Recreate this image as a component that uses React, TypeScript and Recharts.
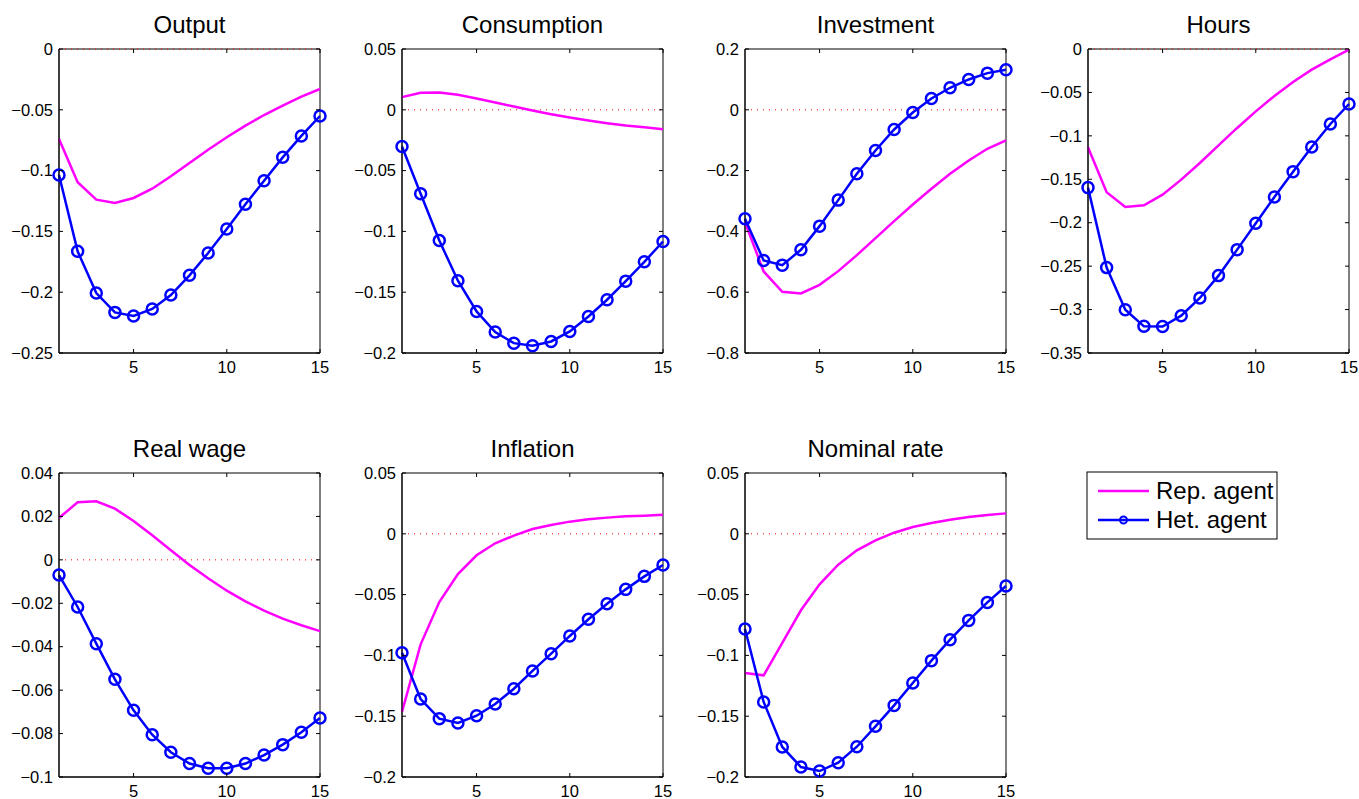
import React from 'react';
import { LineChart, Line, XAxis, YAxis, ReferenceLine, ReferenceArea } from 'recharts';

const periods = [1, 2, 3, 4, 5, 6, 7, 8, 9, 10, 11, 12, 13, 14, 15];
const xTicks = [5, 10, 15];

// Rep. agent / Het. agent impulse responses
const outputRep = [-0.074, -0.1096, -0.1239, -0.1266, -0.1225, -0.1149, -0.1047, -0.0937, -0.0828, -0.0726, -0.063, -0.0543, -0.0466, -0.0392, -0.0329];
const outputHet = [-0.1036, -0.1664, -0.2007, -0.2166, -0.2196, -0.2138, -0.2023, -0.1861, -0.1678, -0.148, -0.1277, -0.1083, -0.0891, -0.0715, -0.0551];
const outputTicks = [-0.25, -0.2, -0.15, -0.1, -0.05, 0];

const consRep = [0.0104, 0.014, 0.0143, 0.0123, 0.0093, 0.006, 0.0027, -0.0005, -0.0036, -0.0063, -0.0088, -0.011, -0.0129, -0.0143, -0.0159];
const consHet = [-0.0302, -0.0691, -0.1075, -0.1406, -0.1658, -0.1828, -0.1919, -0.1941, -0.1905, -0.1823, -0.17, -0.1562, -0.1409, -0.125, -0.1083];
const consTicks = [-0.2, -0.15, -0.1, -0.05, 0, 0.05];

const invRep = [-0.37, -0.5318, -0.5987, -0.6042, -0.5757, -0.5307, -0.478, -0.4221, -0.3662, -0.3114, -0.2599, -0.2105, -0.1667, -0.1283, -0.1009];
const invHet = [-0.3586, -0.4956, -0.511, -0.4605, -0.3827, -0.2971, -0.2105, -0.1338, -0.0647, -0.0088, 0.0373, 0.0724, 0.0998, 0.1206, 0.1316];
const invTicks = [-0.8, -0.6, -0.4, -0.2, 0, 0.2];

const hoursRep = [-0.1132, -0.165, -0.1819, -0.18, -0.1677, -0.1504, -0.1312, -0.1109, -0.0909, -0.0718, -0.0541, -0.038, -0.0238, -0.0119, -0.0008];
const hoursHet = [-0.1596, -0.2517, -0.3001, -0.3193, -0.3196, -0.307, -0.2866, -0.2609, -0.231, -0.2007, -0.1704, -0.1412, -0.1128, -0.0863, -0.0633];
const hoursTicks = [-0.35, -0.3, -0.25, -0.2, -0.15, -0.1, -0.05, 0];

const wageRep = [0.0193, 0.0265, 0.027, 0.0236, 0.0179, 0.0113, 0.0044, -0.0024, -0.0085, -0.0142, -0.0191, -0.0234, -0.0271, -0.0301, -0.0328];
const wageHet = [-0.007, -0.0217, -0.0386, -0.055, -0.0693, -0.0805, -0.0886, -0.0938, -0.096, -0.096, -0.0938, -0.0899, -0.0851, -0.0794, -0.0728];
const wageTicks = [-0.1, -0.08, -0.06, -0.04, -0.02, 0, 0.02, 0.04];

const inflRep = [-0.1465, -0.0909, -0.0561, -0.0331, -0.0177, -0.0078, -0.0015, 0.0039, 0.0072, 0.01, 0.0119, 0.0133, 0.0144, 0.0149, 0.0157];
const inflHet = [-0.0978, -0.1359, -0.152, -0.1556, -0.1496, -0.14, -0.1274, -0.1128, -0.0986, -0.084, -0.0703, -0.0575, -0.0457, -0.035, -0.0257];
const inflTicks = [-0.2, -0.15, -0.1, -0.05, 0, 0.05];

const rateRep = [-0.1145, -0.1164, -0.0898, -0.0629, -0.0416, -0.0254, -0.0136, -0.0054, 0.0009, 0.0056, 0.0089, 0.0116, 0.0138, 0.0155, 0.0168];
const rateHet = [-0.0783, -0.1383, -0.1753, -0.1918, -0.1951, -0.1882, -0.1751, -0.1583, -0.1411, -0.1227, -0.1043, -0.0871, -0.0712, -0.0564, -0.0429];
const rateTicks = [-0.2, -0.15, -0.1, -0.05, 0, 0.05];

const FONT = '"Liberation Sans", Arial, Helvetica, sans-serif';
const PLOT_W = 261;
const PLOT_H = 304;
const YW = 60;
const MT = 10;
const MR = 10;
const XH = 22;
const TICK = 4;

const fmt = (v: number) => String(Number(v.toFixed(4))).replace('-', '\u2212');

const XTick = (props: any) => {
  const { x, y, payload } = props;
  return (
    <g>
      <line x1={x} y1={y} x2={x} y2={y - TICK} stroke="#000" />
      <line x1={x} y1={y - PLOT_H} x2={x} y2={y - PLOT_H + TICK} stroke="#000" />
      <text x={x} y={y + 14} dy="0.35em" textAnchor="middle" fontSize={16.5} fontFamily={FONT} fill="#000">
        {payload.value}
      </text>
    </g>
  );
};

const YTick = (props: any) => {
  const { x, y, payload } = props;
  return (
    <g>
      <line x1={x} y1={y} x2={x + TICK} y2={y} stroke="#000" />
      <line x1={x + PLOT_W} y1={y} x2={x + PLOT_W - TICK} y2={y} stroke="#000" />
      <text x={x - 6} y={y} dy="0.35em" textAnchor="end" fontSize={16.5} fontFamily={FONT} fill="#000">
        {fmt(payload.value)}
      </text>
    </g>
  );
};

interface PanelProps {
  title: string;
  rep: number[];
  het: number[];
  ticks: number[];
  left: number;
  top: number;
}

const Panel: React.FC<PanelProps> = ({ title, rep, het, ticks, left, top }) => {
  const data = periods.map((p, i) => ({ p, rep: rep[i], het: het[i] }));
  const lo = ticks[0];
  const hi = ticks[ticks.length - 1];
  return (
    <>
      <div
        style={{
          position: 'absolute', left, top: top - 36, width: PLOT_W, textAlign: 'center',
          fontFamily: FONT, fontSize: 24, lineHeight: '24px', color: '#000',
        }}
      >
        {title}
      </div>
      <div style={{ position: 'absolute', left: left - YW, top: top - MT }}>
        <LineChart
          width={YW + PLOT_W + MR}
          height={MT + PLOT_H + XH}
          data={data}
          margin={{ top: MT, right: MR, left: 0, bottom: 0 }}
        >
          <XAxis
            dataKey="p" type="number" domain={[1, 15]} ticks={xTicks} interval={0}
            tickSize={0} tickMargin={0} height={XH} axisLine={{ stroke: '#000' }}
            tick={(p: any) => <XTick {...p} />}
          />
          <YAxis
            type="number" domain={[lo, hi]} ticks={ticks} interval={0}
            tickSize={0} tickMargin={0} width={YW} axisLine={{ stroke: '#000' }}
            tick={(p: any) => <YTick {...p} />}
          />
          <ReferenceArea x1={1} x2={15} y1={lo} y2={hi} fill="none" stroke="#000" strokeWidth={1} />
          <ReferenceLine y={0} stroke="#ff0000" strokeDasharray="1 5" strokeWidth={1} />
          <Line type="linear" dataKey="rep" stroke="#ff00ff" strokeWidth={2.5} dot={false} isAnimationActive={false} />
          <Line
            type="linear" dataKey="het" stroke="#0000ff" strokeWidth={2.5} isAnimationActive={false}
            dot={{ r: 5.5, stroke: '#0000ff', strokeWidth: 2.5, fill: 'none' }}
          />
        </LineChart>
      </div>
    </>
  );
};

const Legend: React.FC = () => (
  <svg
    width={192}
    height={69}
    style={{ position: 'absolute', left: 1086, top: 471 }}
  >
    <rect x={1} y={1} width={190} height={67} fill="#fff" stroke="#000" strokeWidth={1} />
    <line x1={12} y1={20} x2={63} y2={20} stroke="#ff00ff" strokeWidth={2.5} />
    <line x1={12} y1={49} x2={63} y2={49} stroke="#0000ff" strokeWidth={2.5} />
    <circle cx={37.5} cy={49} r={3.5} fill="none" stroke="#0000ff" strokeWidth={2} />
    <text x={70} y={20} dy="0.35em" fontSize={24} fontFamily={FONT} fill="#000">Rep. agent</text>
    <text x={70} y={49} dy="0.35em" fontSize={24} fontFamily={FONT} fill="#000">Het. agent</text>
  </svg>
);

export default function App() {
  return (
    <div style={{ position: 'absolute', left: 0, top: 0, width: 1359, height: 799, background: '#fff', overflow: 'hidden' }}>
      <Panel title="Output" rep={outputRep} het={outputHet} ticks={outputTicks} left={59} top={49} />
      <Panel title="Consumption" rep={consRep} het={consHet} ticks={consTicks} left={402} top={49} />
      <Panel title="Investment" rep={invRep} het={invHet} ticks={invTicks} left={745} top={49} />
      <Panel title="Hours" rep={hoursRep} het={hoursHet} ticks={hoursTicks} left={1088} top={49} />
      <Panel title="Real wage" rep={wageRep} het={wageHet} ticks={wageTicks} left={59} top={473} />
      <Panel title="Inflation" rep={inflRep} het={inflHet} ticks={inflTicks} left={402} top={473} />
      <Panel title="Nominal rate" rep={rateRep} het={rateHet} ticks={rateTicks} left={745} top={473} />
      <Legend />
    </div>
  );
}
